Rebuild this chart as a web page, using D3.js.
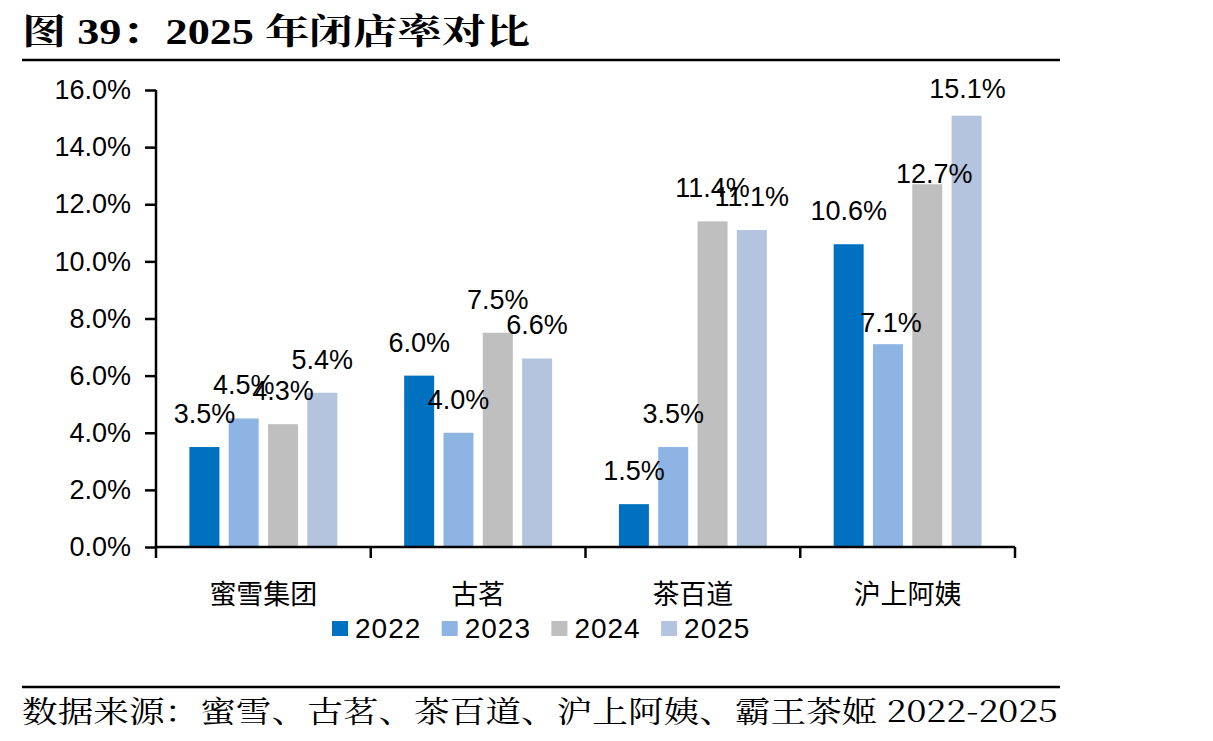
<!DOCTYPE html>
<html lang="zh">
<head>
    <meta charset="UTF-8">
    <title>2025年闭店率对比</title>
    <script src="https://cdnjs.cloudflare.com/ajax/libs/d3/7.8.5/d3.min.js"></script>
    <style>
        body { margin: 0; background: #fff; }
        svg { display: block; }
    </style>
</head>
<body>
    <div id="chart"></div>
    <script>
        // 資料
        const categories = ['蜜雪集团', '古茗', '茶百道', '沪上阿姨']
        const years = ['2022', '2023', '2024', '2025']
        const v2022 = [3.5, 6.0, 1.5, 10.6]
        const v2023 = [4.5, 4.0, 3.5, 7.1]
        const v2024 = [4.3, 7.5, 11.4, 12.7]
        const v2025 = [5.4, 6.6, 11.1, 15.1]
        const yTicks = [0, 2, 4, 6, 8, 10, 12, 14, 16]
        const colors = ['#0070c0', '#8eb4e3', '#bfbfbf', '#b4c4df']

        const series = [v2022, v2023, v2024, v2025]

        // 標籤手動微調 (沪上阿姨那組在原圖被拉低了)
        const nudge = {
            '沪上阿姨-2023': [3, 12],
            '沪上阿姨-2024': [7, 23],
            '沪上阿姨-2025': [1, 6]
        }

        // 尺寸
        const width = 1213,
            height = 741
        const plotLeft = 156, plotRight = 1015, plotTop = 90, plotBottom = 547

        const svg = d3.select('#chart')
            .append('svg')
            .attr('width', width)
            .attr('height', height)

        const latin = 'Arial, "Liberation Sans", sans-serif'
        const cjk = '"Noto Sans CJK SC", sans-serif'

        // 標題
        svg.append('text')
            .attr('x', 22)
            .attr('y', 44)
            .attr('font-family', '"Liberation Serif", "Noto Serif CJK SC", "Noto Sans CJK SC", serif')
            .attr('font-weight', 'bold')
            .attr('font-size', 35)
            .attr('textLength', 508)
            .attr('lengthAdjust', 'spacingAndGlyphs')
            .text('图 39：2025 年闭店率对比')

        svg.append('line')
            .attr('x1', 22).attr('x2', 1060)
            .attr('y1', 60).attr('y2', 60)
            .attr('stroke', '#000')
            .attr('stroke-width', 2.5)

        // 比例尺
        const x = d3.scaleBand()
            .domain(categories)
            .range([plotLeft, plotRight])

        const x1 = d3.scaleBand()
            .domain(years)
            .range([0, x.bandwidth()])
            .paddingInner(0.237)
            .paddingOuter(0.85)

        const y = d3.scaleLinear()
            .domain([0, 16])
            .range([plotBottom, plotTop])

        // y軸
        const yAxis = svg.append('g')
            .attr('transform', `translate(${plotLeft},0)`)
            .call(d3.axisLeft(y)
                .tickValues(yTicks)
                .tickSize(11)
                .tickPadding(14)
                .tickFormat(d => d.toFixed(1) + '%'))
        yAxis.select('.domain').attr('stroke-width', 2.5).attr('d', `M0,${plotTop}V${plotBottom}`)
        yAxis.selectAll('.tick line').attr('stroke-width', 2.5)
        yAxis.selectAll('.tick text')
            .attr('font-family', latin)
            .attr('font-size', 27)
            .attr('fill', '#000')

        // 柱子
        const groups = svg.selectAll('.grp')
            .data(categories)
            .enter()
            .append('g')
            .attr('class', 'grp')
            .attr('transform', d => `translate(${x(d)},0)`)

        const cells = (d, i) => years.map((yr, j) => ({ cat: d, yr, j, v: series[j][i] }))

        groups.selectAll('rect')
            .data(cells)
            .enter()
            .append('rect')
            .attr('x', d => x1(d.yr))
            .attr('width', x1.bandwidth())
            .attr('y', d => y(d.v))
            .attr('height', d => y(0) - y(d.v))
            .attr('fill', d => colors[d.j])

        // 數據標籤
        const nd = d => nudge[d.cat + '-' + d.yr] || [0, 0]
        groups.selectAll('.lbl')
            .data(cells)
            .enter()
            .append('text')
            .attr('class', 'lbl')
            .attr('x', d => x1(d.yr) + x1.bandwidth() / 2 + nd(d)[0])
            .attr('y', d => y(d.v) - 24 + nd(d)[1])
            .attr('text-anchor', 'middle')
            .attr('font-family', latin)
            .attr('font-size', 27)
            .attr('fill', '#000')
            .text(d => d.v.toFixed(1) + '%')

        // x軸
        svg.append('line')
            .attr('x1', plotLeft - 1).attr('x2', plotRight)
            .attr('y1', plotBottom).attr('y2', plotBottom)
            .attr('stroke', '#000')
            .attr('stroke-width', 2.5)

        const bounds = categories.map(c => x(c)).concat([plotRight])
        svg.selectAll('.xtick')
            .data(bounds)
            .enter()
            .append('line')
            .attr('class', 'xtick')
            .attr('x1', d => d).attr('x2', d => d)
            .attr('y1', plotBottom).attr('y2', plotBottom + 11)
            .attr('stroke', '#000')
            .attr('stroke-width', 2.5)

        svg.selectAll('.cat')
            .data(categories)
            .enter()
            .append('text')
            .attr('class', 'cat')
            .attr('x', d => x(d) + x.bandwidth() / 2)
            .attr('y', 604)
            .attr('text-anchor', 'middle')
            .attr('font-family', cjk)
            .attr('font-size', 27)
            .attr('fill', '#000')
            .text(d => d)

        // 圖例
        const legend = svg.selectAll('.leg')
            .data(years)
            .enter()
            .append('g')
            .attr('class', 'leg')
            .attr('transform', (d, i) => `translate(${332 + i * 109.7},0)`)
        legend.append('rect')
            .attr('y', 621)
            .attr('width', 16)
            .attr('height', 15)
            .attr('fill', (d, i) => colors[i])
        legend.append('text')
            .attr('x', 23)
            .attr('y', 638)
            .attr('font-family', latin)
            .attr('font-size', 28)
            .attr('letter-spacing', 1)
            .attr('fill', '#000')
            .text(d => d)

        // 資料來源
        svg.append('line')
            .attr('x1', 22).attr('x2', 1060)
            .attr('y1', 687).attr('y2', 687)
            .attr('stroke', '#000')
            .attr('stroke-width', 2.5)

        svg.append('text')
            .attr('x', 22)
            .attr('y', 722)
            .attr('font-family', '"Noto Serif CJK SC", "Liberation Serif", "Noto Sans CJK SC", serif')
            .attr('font-size', 30)
            .attr('textLength', 1036)
            .attr('lengthAdjust', 'spacingAndGlyphs')
            .text('数据来源：蜜雪、古茗、茶百道、沪上阿姨、霸王茶姬 2022-2025')
    </script>
</body>
</html>
